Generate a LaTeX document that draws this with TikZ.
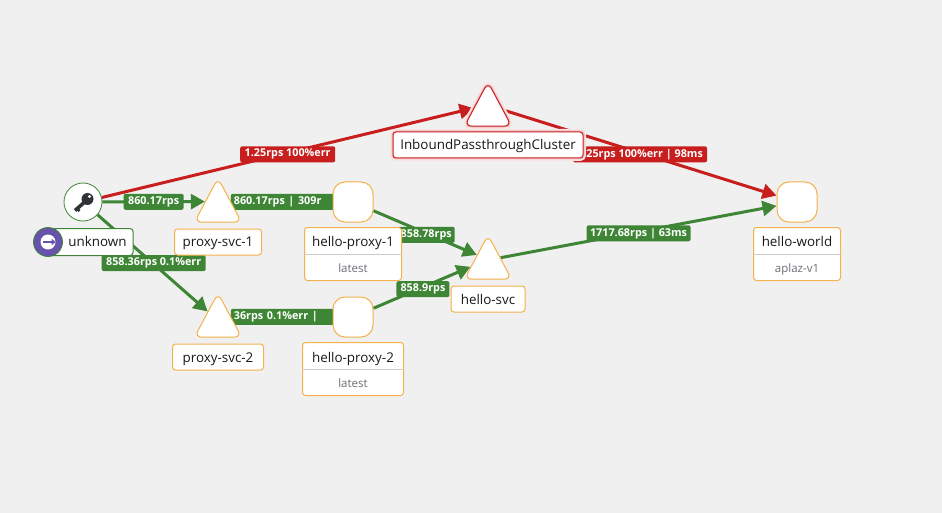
\documentclass[tikz,border=0pt]{standalone}
\usepackage{fontspec}
\setmainfont{Open Sans}
\usetikzlibrary{arrows.meta, backgrounds, positioning, shapes}
\definecolor{pagegray}{HTML}{F0F0F0}
\definecolor{okgreen}{HTML}{3E8635}
\definecolor{errred}{HTML}{C81E1E}
\definecolor{nodeorange}{HTML}{F4B24A}
\definecolor{badgepurple}{HTML}{6753AC}
\definecolor{subgray}{HTML}{6A6E73}
\definecolor{keydark}{HTML}{2F3338}
\newcommand{\headstrut}{\rule[-7pt]{0pt}{26pt}}
\newcommand{\partstrut}{\rule[-8pt]{0pt}{25pt}}
\tikzset{
    trianglenode/.style = {draw=nodeorange, fill=white, line width=1pt, isosceles triangle, isosceles triangle apex angle=53,
      isosceles triangle stretches, shape border rotate=90, minimum width=47pt, minimum height=44pt, inner sep=0pt,
      rounded corners=7pt, node distance=0em},
    roundnode/.style = {draw=nodeorange, fill=white, line width=1pt, rectangle, rounded corners=12pt, minimum size=40pt,
      inner sep=0pt, node distance=0em},
    circlenode/.style = {circle, draw=okgreen, fill=white, line width=0.8pt, inner sep=0pt, minimum size=38pt, node distance=0em},
    splitnode/.style = {draw=nodeorange, fill=white, line width=1pt, rounded corners=3pt, inner sep=0pt,
      node distance=0em, font=\fontsize{13.4}{16}\selectfont, text=black!90,
      rectangle split, rectangle split parts=2, rectangle split draw splits=false},
    labelnode/.style = {draw=nodeorange, fill=white, line width=1pt, rectangle, rounded corners=3pt, inner sep=0pt,
      minimum height=26pt, text height=12pt, text depth=2pt, node distance=0em, font=\fontsize{13.4}{16}\selectfont, text=black!90},
    glow/.style = {preaction={draw=errred!12, line width=6pt}, preaction={draw=errred!28, line width=3pt}},
    edgenode/.style = {fill=okgreen, text=white, rectangle, rounded corners=2pt, inner sep=0pt, minimum height=16pt,
      font=\fontsize{10.8}{13}\bfseries\selectfont},
    errnode/.style = {edgenode, fill=errred},
    connect/.style = {okgreen, line width=3pt, -{Triangle[length=14pt, width=15pt]}},
    errconnect/.style = {connect, errred},
    splitline/.style = {draw=black!20, line width=0.8pt}
}

\begin{document}
\begin{tikzpicture}[x=1pt, y=1pt]
    \path[use as bounding box] (0,0) rectangle (942,-513);

    \node[circlenode, name=Key] at (83,-202) {};
    \node[trianglenode, name=ProxySvc1, right of=Key, xshift=135pt, yshift=-6pt] {};
    \node[trianglenode, name=ProxySvc2, below of=ProxySvc1, yshift=-115pt] {};
    \node[roundnode, name=HelloProxy1, right of=Key, xshift=270pt] {};
    \node[roundnode, name=HelloProxy2, below of=HelloProxy1, yshift=-115pt] {};
    \node[trianglenode, name=HelloSvc, right of=Key, xshift=405pt, yshift=-63pt] {};
    \node[trianglenode, name=Inbound, draw=errred, glow, above of=HelloSvc, yshift=153pt] {};
    \node[roundnode, name=HelloWorld, right of=Key, xshift=714pt] {};

    \begin{scope}[on background layer]
      \fill[pagegray] (0,0) rectangle (942,-513);
      \draw (Key) edge[errconnect] node[errnode, minimum width=95pt, pos=0.5, yshift=-1.5pt] {1.25rps 100\%err} (Inbound.165);
      \draw (Inbound.7) edge[errconnect] node[errnode, minimum width=134pt, pos=0.5, yshift=-1.5pt] {1.25rps 100\%err | 98ms} (HelloWorld);
      \draw (Key) edge[connect] node[edgenode, minimum width=60pt, pos=0.5] {860.17rps} (ProxySvc1.154);
      \draw (Key) edge[connect] node[edgenode, minimum width=104pt, pos=0.51, yshift=1pt] {858.36rps 0.1\%err} (ProxySvc2.132);
      \draw (ProxySvc1.26) edge[connect] node[edgenode, text width=100pt, inner xsep=3pt, align=left, pos=0.52] {860.17rps | 309r} (HelloProxy1);
      \draw (ProxySvc2.26) edge[connect] node[edgenode, text width=100pt, inner xsep=3pt, align=left, pos=0.52] {36rps 0.1\%err |} (HelloProxy2);
      \draw (HelloProxy1) edge[connect] node[edgenode, minimum width=57pt, pos=0.51, yshift=-1.5pt] {858.78rps} (HelloSvc.138);
      \draw (HelloProxy2) edge[connect] node[edgenode, minimum width=53pt, pos=0.51, yshift=-2pt] {858.9rps} (HelloSvc.186);
      \draw (HelloSvc.30) edge[connect] node[edgenode, minimum width=104pt, pos=0.5, yshift=-1.5pt] {1717.68rps | 63ms} (HelloWorld);
    \end{scope}

    \node[labelnode, name=InboundLabel, draw=errred, glow, below of=Inbound, yshift=-33pt, minimum width=190pt] {InboundPassthroughCluster};
    \node[labelnode, name=UnknownLabel, draw=okgreen, below of=Key, yshift=-40pt, xshift=7.5pt, minimum width=85pt, minimum height=27pt] {\hspace{14pt}unknown};
    \node[labelnode, name=ProxySvc1Label, below of=Key, yshift=-40pt, xshift=135pt, minimum width=87pt] {proxy-svc-1};
    \node[labelnode, name=ProxySvc2Label, below of=Key, yshift=-155pt, xshift=135pt, minimum width=91pt] {proxy-svc-2};
    \node[labelnode, name=HelloSvcLabel, below of=Key, yshift=-97pt, xshift=405pt, minimum width=74pt] {hello-svc};
    \node[splitnode, name=HelloProxy1Label, below of=HelloProxy1, yshift=-52pt, minimum width=97pt] {\headstrut hello-proxy-1\nodepart{two}\partstrut\fontsize{11.5}{14}\selectfont\color{subgray}latest};
    \node[splitnode, name=HelloProxy2Label, below of=HelloProxy2, yshift=-52pt, minimum width=101pt] {\headstrut hello-proxy-2\nodepart{two}\partstrut\fontsize{11.5}{14}\selectfont\color{subgray}latest};
    \node[splitnode, name=HelloWorldLabel, below of=HelloWorld, yshift=-52pt, minimum width=87pt] {\headstrut hello-world\nodepart{two}\partstrut\fontsize{11.5}{14}\selectfont\color{subgray}aplaz-v1};
    \draw[splitline] (HelloProxy1Label.text split west) -- (HelloProxy1Label.text split east);
    \draw[splitline] (HelloProxy2Label.text split west) -- (HelloProxy2Label.text split east);
    \draw[splitline] (HelloWorldLabel.text split west) -- (HelloWorldLabel.text split east);

    % key icon
    \begin{scope}[shift={(Key.center)}]
      \draw[keydark, line width=3.6pt] (4,2) -- (-8,-8.5);
      \draw[keydark, line width=2.6pt] (-6,-6.5) -- (-3.5,-9);
      \fill[keydark] (4.5,3) circle (6pt);
      \fill[white] (6.5,5.5) circle (1.6pt);
    \end{scope}

    % badge
    \node[circlenode, name=Badge, fill=badgepurple, minimum size=29pt] at (48,-242) {};
    \node[circle, fill=white, name=BadgeInner, inner sep=0pt, minimum size=15pt] at (Badge) {};
    \draw[badgepurple, line width=1.4pt, -{Triangle[length=4pt, width=6pt]}] (BadgeInner.west) ++(3,0) -- (BadgeInner.east);
\end{tikzpicture}
\end{document}
